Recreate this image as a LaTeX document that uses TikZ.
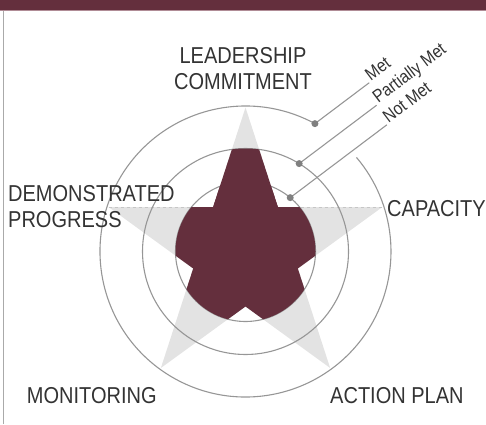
\documentclass[tikz,border=0pt]{standalone}
\usepackage{fontspec}
\setmainfont{Liberation Sans}[FakeStretch=0.87]
\usepackage{xcolor}
\definecolor{maroon}{RGB}{100,47,61}
\definecolor{headerrule}{RGB}{176,140,150}
\definecolor{starbg}{RGB}{227,227,227}
\definecolor{ringgray}{RGB}{150,150,150}
\definecolor{dotgray}{RGB}{128,128,128}
\definecolor{labelgray}{RGB}{51,51,51}
\definecolor{framegray}{RGB}{170,170,170}
\usepackage{tikz}
\newcommand{\radstar}{144}
\newcommand{\radnotch}{55}
\newcommand{\radinner}{70}
\newcommand{\radmid}{103}
\newcommand{\radouter}{145.5}
\tikzset{
    star-outline/.style={insert path={(90:\radstar) \foreach \a in {0,72,...,288}{ -- (126+\a:\radnotch) -- (162+\a:\radstar)} -- cycle}},
    ring/.style={draw=ringgray, line width=1.1pt},
    arm-edge/.style={draw=gray!45, dashed, line width=0.8pt},
    lead-line/.style={draw=ringgray, line width=1.1pt},
    axis-label/.style={inner sep=0pt, text=labelgray, font=\fontsize{23}{26}\selectfont},
    rate-label/.style={inner sep=2pt, text=labelgray, font=\fontsize{18}{20}\selectfont, rotate=37, anchor=base west}
}
\begin{document}
\begin{tikzpicture}[x=1pt, y=1pt]
    \useasboundingbox (0,0) rectangle (486,424);
    % header bar and frame
    \fill[maroon] (0,414) rectangle (486,424);
    \draw[headerrule, line width=1pt] (0,413.5) -- (486,413.5);
    \draw[framegray, line width=1.5pt] (3.5,0) -- (3.5,413);

    \begin{scope}[shift={(245.5,172.5)}]
        \fill[starbg, star-outline];
        \draw[arm-edge] (162:\radstar) -- (18:\radstar);
        \draw[ring] (0,0) circle (\radinner);
        \draw[ring] (0,0) circle (\radmid);
        \draw[ring] (61.5:\radouter) arc[start angle=61.5, end angle=400.3, radius=\radouter];
        % rating
        \begin{scope}
            \clip[star-outline];
            \fill[maroon] (0,0) circle (\radinner);
            \fill[maroon] (0,0) -- (54:\radmid) arc[start angle=54, end angle=126, radius=\radmid] -- cycle;
        \end{scope}
        % legend
        \coordinate (met-dot) at (61.5:\radouter);
        \coordinate (part-dot) at (58.6:\radmid);
        \coordinate (notmet-dot) at (50.3:\radinner);
        \node[rate-label] (met) at ([shift={(37:68)}]met-dot) {Met};
        \node[rate-label] (part) at ([shift={(37:97)}]part-dot) {Partially Met};
        \node[rate-label] (notmet) at ([shift={(37:121)}]notmet-dot) {Not Met};
        \draw[lead-line] (met-dot) -- (met.base west);
        \draw[lead-line] (part-dot) -- (part.base west);
        \draw[lead-line] (notmet-dot) -- (notmet.base west);
        \foreach \d in {met-dot, part-dot, notmet-dot}
            \fill[dotgray] (\d) circle (3.5);
    \end{scope}

    \node[axis-label, align=center] (leader) at (243,355.7) {LEADERSHIP\\COMMITMENT};
    \node[axis-label, align=left, anchor=west] (progress) at (8,217.5) {DEMONSTRATED\\PROGRESS};
    \node[axis-label, anchor=base west] (capacity) at (387,207.3) {CAPACITY};
    \node[axis-label, anchor=base west] (monitor) at (26.7,21) {MONITORING};
    \node[axis-label, anchor=base west] (plan) at (330,21) {ACTION PLAN};
\end{tikzpicture}
\end{document}
